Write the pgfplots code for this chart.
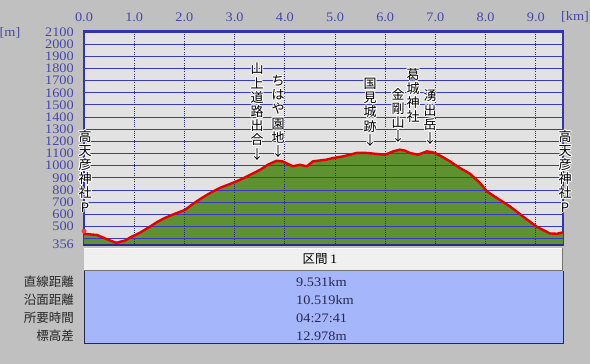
\documentclass[border=0pt]{standalone}
\usepackage{pgfplots}
\pgfplotsset{compat=1.18}
\usepackage{pgfplotstable}
\usepackage{fontspec}
\setmainfont{Liberation Serif}
\newfontfamily\jp{Noto Sans CJK JP}
\newfontfamily\num[FakeStretch=1.1]{Liberation Serif}
\definecolor{outerbg}{RGB}{192,192,192}
\definecolor{plotbg}{RGB}{226,226,226}
\definecolor{fillgreen}{RGB}{94,146,48}
\definecolor{lineRed}{RGB}{232,0,0}
\definecolor{axisblue}{RGB}{52,52,176}
\definecolor{gridblue}{RGB}{56,56,196}
\definecolor{vgrid}{RGB}{40,40,110}
\definecolor{ticklbl}{RGB}{70,70,170}
\definecolor{hdrbg}{RGB}{240,240,240}
\definecolor{tblblue}{RGB}{166,182,250}
\definecolor{tblborder}{RGB}{40,40,80}

\pgfplotstableread{
km elev
0.00 440
0.26 430
0.46 395
0.64 366
0.82 385
0.92 410
1.12 450
1.31 498
1.47 540
1.61 570
1.81 605
2.01 636
2.15 680
2.31 725
2.51 775
2.71 818
2.91 850
3.11 884
3.31 925
3.51 967
3.67 1010
3.84 1041
3.96 1035
4.06 1015
4.16 995
4.30 1008
4.44 995
4.56 1036
4.83 1050
4.96 1063
5.16 1077
5.30 1091
5.43 1105
5.63 1105
5.83 1097
6.00 1091
6.16 1118
6.29 1132
6.39 1125
6.49 1105
6.65 1091
6.75 1105
6.83 1118
6.93 1112
6.99 1105
7.13 1075
7.29 1036
7.49 981
7.69 934
7.89 857
8.03 788
8.23 733
8.49 664
8.75 581
9.02 498
9.28 443
9.42 440
9.542 452
}\profile

\tikzset{lbl/.style={font=\jp\fontsize{13}{14.2}\selectfont, align=center, inner sep=0pt, anchor=north}}
\newcommand\vlabel[3]{%
  \foreach \dx/\dy in {-1/0,1/0,0/-1,0/1,-0.75/-0.75,0.75/0.75,-0.75/0.75,0.75/-0.75}{%
    \node[lbl,text=white] at ([xshift=\dx pt,yshift=\dy pt]#1pt,#2pt) {#3};}%
  \node[lbl,text=black] at (#1pt,#2pt) {#3};}

\begin{document}
\begin{tikzpicture}
\useasboundingbox (0,0) rectangle (590pt,364pt);
\fill[outerbg] (0,0) rectangle (590pt,364pt);
\begin{axis}[
  at={(84pt,120pt)}, anchor=south west,
  scale only axis, width=479pt, height=212pt,
  xmin=0, xmax=9.542, ymin=356, ymax=2100,
  axis background/.style={fill=plotbg},
  axis line style={draw=axisblue, line width=1.5pt},
  xtick={0,1,2,3,4,5,6,7,8,9},
  ytick={356,500,600,700,800,900,1000,1100,1200,1300,1400,1500,1600,1700,1800,1900,2000,2100},
  xticklabel pos=upper,
  tick style={draw=none},
  /pgf/number format/assume math mode=true,
  /pgf/number format/1000 sep={},
  tick label style={font=\num\fontsize{13}{13}\selectfont, text=ticklbl, inner sep=0pt},
  xticklabel style={anchor=center, yshift=15pt, /pgf/number format/fixed, /pgf/number format/fixed zerofill, /pgf/number format/precision=1},
  yticklabel style={anchor=east, xshift=-10pt},
  clip=true,
]
\addplot[fill=fillgreen, draw=none] table[x=km,y=elev]{\profile} \closedcycle;
\pgfplotsinvokeforeach{400,500,600,700,800,900,1000,1100,1200,1300,1400,1500,1600,1700,1800,1900,2000}{
  \draw[gridblue, line width=0.9pt] (axis cs:0,#1) -- (axis cs:9.542,#1);}
\pgfplotsinvokeforeach{1,2,3,4,5,6,7,8,9}{
  \draw[vgrid, line width=0.8pt, dash pattern=on 1pt off 1.2pt] (axis cs:#1,356) -- (axis cs:#1,2100);}
\addplot[lineRed, line width=2.4pt, line join=round] table[x=km,y=elev]{\profile};
\addplot[only marks, mark=*, mark size=2.2pt, color=red!70!pink] coordinates {(0,462)};
\end{axis}
% frame accents
\draw[axisblue, line width=2pt] (83pt,333pt) -- (564pt,333pt);
\draw[axisblue!80!black, line width=2pt] (83pt,119pt) -- (564pt,119pt);
% axis units
\node[font=\num\fontsize{13}{13}\selectfont, text=ticklbl, inner sep=0pt] at (10pt,331pt) {[m]};
\node[font=\num\fontsize{13}{13}\selectfont, text=ticklbl, inner sep=0pt] at (575pt,347pt) {[km]};
% place labels
\vlabel{85}{234}{高\\天\\彦\\神\\社\\P}
\vlabel{257}{301}{山\\上\\道\\路\\出\\合\\↓}
\vlabel{278}{289}{ち\\は\\や\\園\\地\\↓}
\vlabel{370}{286}{国\\見\\城\\跡\\↓}
\vlabel{398}{276}{金\\剛\\山\\↓}
\vlabel{413}{296}{葛\\城\\神\\社}
\vlabel{430}{274}{湧\\出\\岳\\↓}
\vlabel{565}{234}{高\\天\\彦\\神\\社\\P}
% table
\fill[hdrbg] (84pt,93pt) rectangle (563pt,116pt);
\draw[white, line width=1pt] (84pt,115.5pt) -- (563pt,115.5pt);
\draw[black!55, line width=1pt] (84pt,93.5pt) -- (562.5pt,93.5pt) -- (562.5pt,116pt);
\fill[tblblue] (84pt,20pt) rectangle (563pt,93pt);
\draw[tblborder, line width=1pt] (84pt,93pt) -- (84pt,20pt) -- (563pt,20pt) -- (563pt,93pt);
\node[inner sep=0pt] at (320pt,105pt) {{\jp\fontsize{12.5}{13}\selectfont 区間} {\num\fontsize{13}{13}\selectfont 1}};
\foreach \yy/\tx in {82/直線距離, 64/沿面距離, 46/所要時間, 28/標高差}{
  \node[anchor=east, inner sep=0pt, font=\jp\fontsize{12.5}{13}\selectfont, text=black!85] at (74pt,\yy pt) {\tx};}
\foreach \yy/\tx in {82/9.531km, 64/10.519km, 46/04:27:41, 28/12.978m}{
  \node[anchor=west, inner sep=0pt, font=\num\fontsize{13}{13}\selectfont, text=tblborder] at (296pt,\yy pt) {\tx};}
\end{tikzpicture}
\end{document}
